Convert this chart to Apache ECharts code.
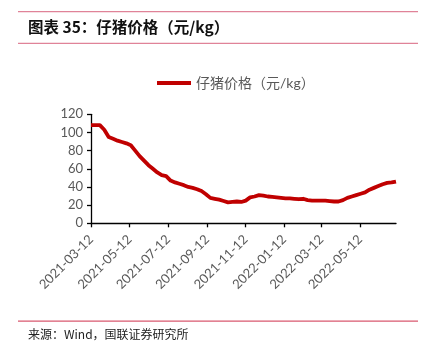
<!DOCTYPE html>
<html>
<head>
<meta charset="utf-8">
<script src="https://cdn.jsdelivr.net/npm/echarts@6/dist/echarts.min.js"></script>
<style>
html,body{margin:0;padding:0;background:#fff;}
#c{width:445px;height:353px;}
</style>
</head>
<body>
<div id="c"></div>
<script>
// Weekly dates (Fridays)
var dates = [
 '2021-03-12','2021-03-19','2021-03-26','2021-04-02','2021-04-09','2021-04-16','2021-04-23','2021-04-30',
 '2021-05-07','2021-05-14','2021-05-21','2021-05-28','2021-06-04','2021-06-11','2021-06-18','2021-06-25',
 '2021-07-02','2021-07-09','2021-07-16','2021-07-23','2021-07-30','2021-08-06','2021-08-13','2021-08-20',
 '2021-08-27','2021-09-03','2021-09-10','2021-09-17','2021-09-24','2021-10-01','2021-10-08','2021-10-15',
 '2021-10-22','2021-10-29','2021-11-05','2021-11-12','2021-11-19','2021-11-26','2021-12-03','2021-12-10',
 '2021-12-17','2021-12-24','2021-12-31','2022-01-07','2022-01-14','2022-01-21','2022-01-28','2022-02-04',
 '2022-02-11','2022-02-18','2022-02-25','2022-03-04','2022-03-11','2022-03-18','2022-03-25','2022-04-01',
 '2022-04-08','2022-04-15','2022-04-22','2022-04-29','2022-05-06','2022-05-13','2022-05-20','2022-05-27',
 '2022-06-03','2022-06-10','2022-06-17','2022-06-24','2022-07-01','2022-07-08'
];
// Piglet price, yuan/kg
var prices = [
 108,108,108,103,95,93,91,89.5,
 88,86,80,74,69,64,60,56,
 53,52,47,45,43.5,42,40,39,
 37.5,35.5,32,28,27,26,24.5,23,
 23.5,24,23.5,25,28.5,29.5,31,30.5,
 29.5,29,28.5,28,27.5,27.5,27,26.5,
 27,25.5,25,25,25,25,24.5,24,
 24,25.5,28,29.5,31,32.5,34,37,
 39,41,43,44.5,45,46
];
var yTicks = [0,20,40,60,80,100,120];
var seriesName = '仔猪价格（元/kg）';

// daily category axis spanning the date range
function parseD(s){var p=s.split('-');return Date.UTC(+p[0],+p[1]-1,+p[2]);}
function fmt(t){var d=new Date(t);var m=d.getUTCMonth()+1,dd=d.getUTCDate();
  return d.getUTCFullYear()+'-'+(m<10?'0'+m:m)+'-'+(dd<10?'0'+dd:dd);}
var DAY=86400000, t0=parseD(dates[0]), t1=parseD(dates[dates.length-1]);
var days=[]; for(var t=t0;t<=t1;t+=DAY){days.push(fmt(t));}
var seriesData = dates.map(function(d,i){return [Math.round((parseD(d)-t0)/DAY), prices[i]];});
function isTick(idx,val){var m=+val.substr(5,2);return val.substr(8,2)==='12' && (m%2===1);}

var chart = echarts.init(document.getElementById('c'), null, {renderer:'canvas'});
var FONT = "Lato, 'Noto Sans CJK SC', sans-serif";
chart.setOption({
  animation:false,
  backgroundColor:'#fff',
  textStyle:{fontFamily:FONT},
  graphic:[
    {type:'rect',shape:{x:18,y:11,width:400,height:1.3},style:{fill:'#e08398'},silent:true},
    {type:'rect',shape:{x:18,y:42.7,width:400,height:1.3},style:{fill:'#e08398'},silent:true},
    {type:'rect',shape:{x:18,y:320.5,width:400,height:1.3},style:{fill:'#d9586f'},silent:true},
    {type:'text',left:28,top:19,style:{text:'图表 35：仔猪价格（元/kg）',fill:'#111',
      font:"bold 15.5px 'Noto Sans CJK SC', sans-serif"}},
    {type:'text',left:28,top:328,style:{text:'来源：Wind，国联证券研究所',fill:'#222',
      font:"12px 'Noto Sans CJK SC', sans-serif"}}
  ],
  legend:{
    left:152, top:71, itemWidth:34, itemHeight:4, itemGap:4, icon:'rect',
    textStyle:{color:'#595959',fontSize:14,fontFamily:FONT},
    data:[{name:seriesName}]
  },
  grid:{left:91,right:49,top:114.3,bottom:129.7,containLabel:false},
  xAxis:{
    type:'category', data:days, boundaryGap:false,
    axisLine:{lineStyle:{color:'#000',width:1.3}},
    axisTick:{show:true,interval:isTick,length:4,lineStyle:{color:'#000',width:1.3}},
    axisLabel:{interval:isTick,rotate:45,color:'#595959',fontSize:13,margin:14,fontFamily:FONT},
    splitLine:{show:false}
  },
  yAxis:{
    type:'value', min:yTicks[0], max:yTicks[yTicks.length-1], interval:20,
    axisLine:{show:true,lineStyle:{color:'#000',width:1.3}},
    axisTick:{show:true,length:4,lineStyle:{color:'#000',width:1.3}},
    axisLabel:{color:'#595959',fontSize:13,margin:8,fontFamily:FONT},
    splitLine:{show:false}
  },
  series:[{
    name:seriesName, type:'line', data:seriesData, showSymbol:false, symbol:'none',
    lineStyle:{color:'#c00000',width:3.8,join:'round'}, itemStyle:{color:'#c00000'}
  }]
});
</script>
</body>
</html>
